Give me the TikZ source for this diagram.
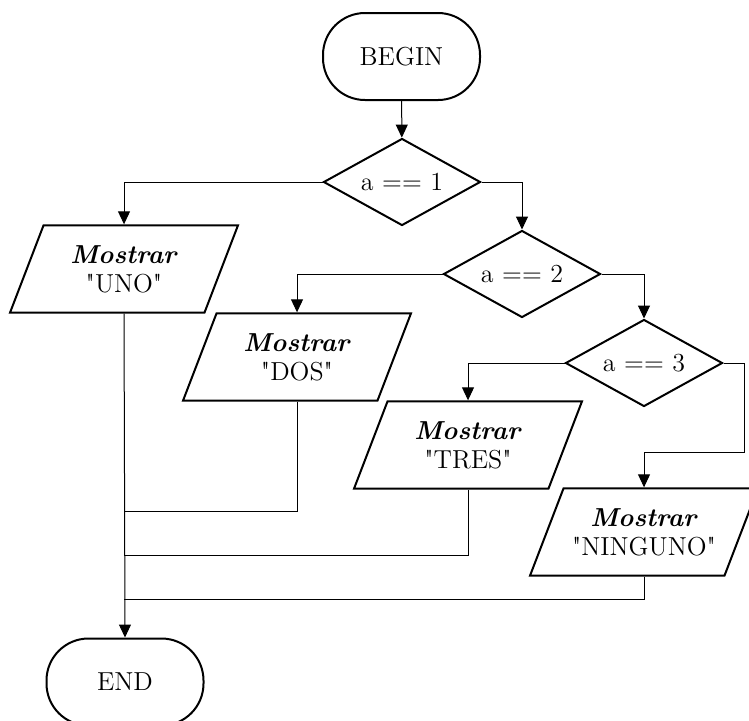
\documentclass[tikz,border=0pt]{standalone}
\usepackage{fontspec}
\setmainfont{Latin Modern Roman}[Ligatures=TeXOff]
\usepackage{tikz}
\usetikzlibrary{shapes.geometric,arrows.meta}

\begin{document}
\begin{tikzpicture}[x=0.5pt,y=0.5pt,yscale=-1,xscale=1,
    every node/.style={font=\fontsize{13}{14.5}\selectfont},
    terminal/.style={draw,line width=1pt,rounded corners=21pt,minimum width=78.5pt,minimum height=43.5pt,inner sep=0pt},
    decision/.style={draw,diamond,aspect=1.8,line width=1pt,minimum width=78.5pt,minimum height=43.5pt,inner sep=0pt},
    output/.style={draw,trapezium,trapezium left angle=69,trapezium right angle=111,trapezium stretches body=true,line width=1pt,minimum width=114pt,inner xsep=0pt,inner ysep=10pt,align=center},
    flow/.style={line width=0.5pt,-{Triangle[length=6.5pt,width=6pt]}},
    link/.style={line width=0.5pt}]
    \useasboundingbox (0,0) rectangle (749,720);

    % Terminals
    \draw (401.5,56.5) node (begin) [terminal] {BEGIN};
    \draw (125,682) node (end) [terminal] {END};

    % Decisions
    \draw (402,182) node (d1) [decision] {a == 1};
    \draw (522,274) node (d2) [decision] {a == 2};
    \draw (644,363) node (d3) [decision] {a == 3};

    % Outputs
    \draw (124,269) node (uno) [output] {\textbf{\textit{Mostrar}}\\"UNO"};
    \draw (297,357) node (dos) [output] {\textbf{\textit{Mostrar}}\\"DOS"};
    \draw (468,445) node (tres) [output] {\textbf{\textit{Mostrar}}\\"TRES"};
    \draw (644,532) node (ning) [output] {\textbf{\textit{Mostrar}}\\"NINGUNO"};

    % Joints
    \coordinate (c3) at (744,452);
    \coordinate (j1) at (124,511);
    \coordinate (j2) at (124,555);
    \coordinate (j3) at (124,599);

    % Arrows
    \draw [flow] (begin) -- (d1);
    \draw [flow] (d1.west) -| (uno.north);
    \draw [flow] (d1.east) -| (d2.north);
    \draw [flow] (d2.west) -| (dos.north);
    \draw [flow] (d2.east) -| (d3.north);
    \draw [flow] (d3.west) -| (tres.north);
    \draw [flow] (d3.east) -| (c3) -| (ning.north);
    \draw [flow] (uno.south) -- (end.north);

    % Returns
    \draw [link] (dos.south) |- (j1);
    \draw [link] (tres.south) |- (j2);
    \draw [link] (ning.south) |- (j3);

\end{tikzpicture}
\end{document}
